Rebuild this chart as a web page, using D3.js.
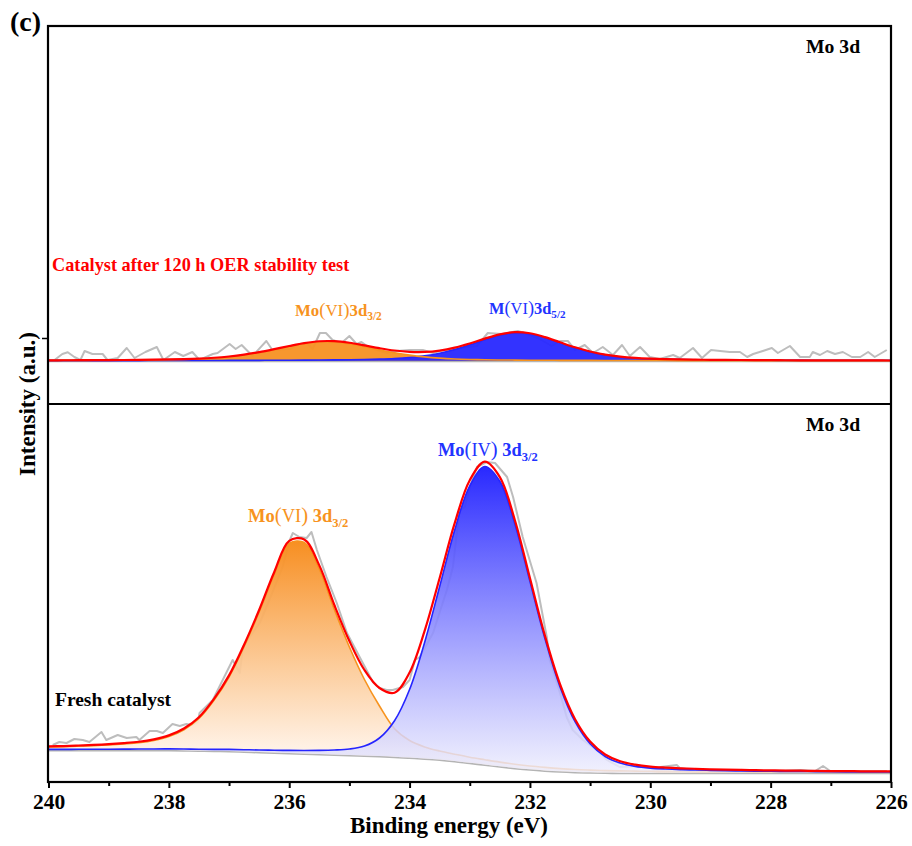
<!DOCTYPE html>
<html>
<head>
<meta charset="utf-8">
<script src="https://cdn.jsdelivr.net/npm/d3@7"></script>
<style>
  html, body { margin: 0; padding: 0; background: #fff; }
  svg { display: block; }
  text { font-family: "Times New Roman", "Liberation Serif", serif; }
</style>
</head>
<body>
<svg id="chart" width="912" height="846"></svg>
<script>
// ---- Mo 3d XPS data (binding energy in eV, intensity in a.u.) ----

// common energy grid of the fitted curves
const energy = [240, 239.75, 239.5, 239.25, 239, 238.75, 238.5, 238.25, 238, 237.75, 237.5, 237.25, 237,
  236.75, 236.5, 236.25, 236, 235.75, 235.5, 235.25, 235, 234.75, 234.5, 234.25, 234, 233.75, 233.5,
  233.25, 233, 232.75, 232.5, 232.25, 232, 231.75, 231.5, 231.25, 231, 230.75, 230.5, 230.25, 230,
  229.75, 229.5, 229.25, 229, 228.75, 228.5, 228.25, 228, 227.75, 227.5, 227.25, 227, 226.75, 226.5,
  226.25, 226];

// after 120 h OER stability test
const afterBackground = 43.2;
const afterMoVI32 = [0.34, 0.38, 0.42, 0.48, 0.54, 0.61, 0.72, 0.86, 1.07, 1.38, 1.89, 2.70, 3.95, 5.74,
  8.15, 11.07, 14.22, 17.05, 18.78, 18.74, 16.96, 14.10, 10.95, 8.04, 5.66, 3.88, 2.66, 1.86, 1.36, 1.05,
  0.85, 0.72, 0.61, 0.54, 0.47, 0.42, 0.38, 0.34, 0.31, 0.28, 0.25, 0.23, 0.21, 0.20, 0.18, 0.17, 0.16,
  0.15, 0.14, 0.13, 0.12, 0.12, 0.11, 0.10, 0.10, 0.09, 0.09];
const afterMoVI52 = [0.15, 0.16, 0.17, 0.18, 0.19, 0.21, 0.22, 0.24, 0.26, 0.29, 0.31, 0.34, 0.38, 0.42,
  0.47, 0.53, 0.59, 0.68, 0.78, 0.90, 1.07, 1.30, 1.67, 2.27, 3.29, 4.97, 7.59, 11.28, 15.97, 21.13,
  25.63, 27.93, 26.91, 23.09, 18.02, 13.06, 8.93, 5.89, 3.87, 2.62, 1.87, 1.43, 1.15, 0.97, 0.82, 0.71,
  0.63, 0.55, 0.49, 0.44, 0.40, 0.36, 0.33, 0.30, 0.27, 0.25, 0.23];
const afterRawEnergy = [239.90, 239.77, 239.68, 239.57, 239.47, 239.40, 239.27, 239.10, 239.02, 238.85,
  238.70, 238.57, 238.39, 238.20, 238.09, 237.90, 237.76, 237.61, 237.49, 237.27, 237.19, 236.99, 236.89,
  236.79, 236.61, 236.38, 236.28, 235.99, 235.83, 235.71, 235.61, 235.49, 235.39, 235.28, 235.13, 235.00,
  234.88, 234.80, 234.66, 234.38, 234.21, 234.00, 233.78, 233.61, 233.50, 233.17, 232.88, 232.70, 232.47,
  232.20, 232.04, 231.84, 231.64, 231.50, 231.37, 231.25, 231.09, 230.95, 230.79, 230.62, 230.47, 230.34,
  230.17, 230.01, 229.84, 229.62, 229.51, 229.29, 229.14, 228.99, 228.84, 228.68, 228.51, 228.39, 228.29,
  228.13, 227.98, 227.88, 227.68, 227.51, 227.35, 227.30, 227.18, 227.06, 226.93, 226.80, 226.65, 226.51,
  226.38, 226.27, 226.07];
const afterRawIntensity = [44, 50, 51.7, 47, 44, 53, 50, 50, 44, 46, 56, 46, 52, 57, 44, 52, 48, 52, 44, 50,
  51, 60, 55, 59, 48, 63, 54, 55, 60, 61, 55, 71, 71, 64, 61, 68, 60, 62, 56, 51, 53, 54, 54, 51, 53, 56,
  58, 71, 70, 73, 70, 65, 58, 63, 63, 54, 59, 51, 57, 49, 59, 48, 57, 47, 45, 49, 46, 56, 46, 54, 53, 52,
  52, 47, 50, 53, 56, 51, 58, 47, 47, 52, 49, 53, 50, 52, 47, 47, 52, 47, 54];

// fresh catalyst
const freshBackground = [32, 32, 32, 32, 32, 32, 32, 32, 32, 31.8, 31.5, 31.2, 31, 30.5, 30, 29.5, 29,
  28.5, 28, 27.5, 27, 26.5, 26, 25.3, 24.5, 23.6, 22.5, 21, 19.2, 17.5, 15.7, 14.1, 12.7, 11.6, 10.7,
  10.1, 9.7, 9.4, 9.3, 9.2, 9.2, 9.2, 9.2, 9.2, 9.2, 9.2, 9.2, 9.2, 9.2, 9.2, 9.2, 9.2, 9.2, 9.2, 9.2,
  9.2, 9.2];
const freshMoVI32 = [3.0, 3.3, 3.8, 4.3, 5.0, 6.0, 7.3, 9.6, 13.5, 20.5, 32, 50.5, 74, 105, 140, 178,
  209.5, 211, 185, 145, 108, 76, 50, 28, 17, 11.5, 8.5, 6.8, 5.6, 4.8, 4.2, 3.7, 3.3, 3.0, 2.7, 2.4, 2.2,
  2.0, 1.8, 1.7, 1.5, 1.4, 1.3, 1.2, 1.1, 1.0, 1.0, 0.9, 0.9, 0.8, 0.8, 0.7, 0.7, 0.7, 0.6, 0.6, 0.6];
const freshMoIV32 = [0.6, 0.64, 0.69, 0.74, 0.8, 0.86, 0.93, 1.0, 1.1, 1.2, 1.3, 1.45, 1.6, 1.8, 2.0, 2.3,
  2.6, 3.0, 3.6, 4.5, 6.0, 9.5, 18, 36, 68, 116, 173, 231, 277, 298, 285, 244, 188, 131.5, 84.4, 50.2,
  28.5, 16.1, 9.6, 6.4, 4.7, 3.8, 3.2, 2.8, 2.4, 2.1, 1.9, 1.7, 1.5, 1.4, 1.3, 1.15, 1.05, 0.97, 0.9,
  0.83, 0.77];
const freshRawEnergy = [239.93, 239.82, 239.70, 239.57, 239.43, 239.32, 239.12, 239.04, 238.85, 238.70,
  238.54, 238.49, 238.32, 238.20, 238.10, 237.94, 237.82, 237.71, 237.61, 237.52, 237.49, 237.27, 236.94,
  236.82, 236.77, 236.54, 236.49, 236.33, 236.11, 235.99, 235.94, 235.83, 235.71, 235.63, 235.54, 235.38,
  235.21, 235.04, 234.83, 234.61, 234.50, 234.38, 234.28, 234.11, 234.00, 233.91, 233.83, 233.61, 233.38,
  233.28, 233.17, 233.08, 233.00, 232.88, 232.72, 232.58, 232.38, 232.28, 232.12, 231.89, 231.72, 231.67,
  231.50, 231.39, 231.29, 231.12, 230.89, 230.72, 230.51, 230.17, 229.96, 229.56, 229.51, 229.18, 228.84,
  228.51, 228.18, 227.85, 227.51, 227.26, 227.13, 227.01, 226.68, 226.35, 226.07];
const freshRawIntensity = [37, 40, 39, 43, 42, 40, 50, 42, 47, 44, 45, 42, 51, 51, 49, 58, 56, 58, 57, 60,
  69, 82, 122, 109, 135, 155, 159, 182, 215, 242, 249, 245, 244, 250, 232, 205, 179, 149, 125, 100, 94,
  92, 92, 95, 102, 122, 125, 149, 192, 215, 272, 275, 295, 315, 320, 319, 305, 285, 245, 199, 145, 122,
  89, 65, 52, 42, 32, 22, 15, 16, 14, 17, 14, 11, 12, 11, 11, 11, 12, 11, 16, 11, 11, 11, 11];

// axis ticks
const majorTicks = [240, 238, 236, 234, 232, 230, 228, 226];
const minorTicks = [239, 237, 235, 233, 231, 229, 227];
const afterIntensityTicks = [66];

// ---- layout ----
const svg = d3.select("#chart");
const box = { left: 48, right: 891, top: 26, mid: 404, bottom: 782 };
const ORANGE = "#F7931E", BLUE = "#2525FF", RED = "#FF0000", RAW = "#BDBDBD", BASE = "#B4B4B4";
const SERIF = "'Times New Roman','Liberation Serif',serif";

const x = d3.scaleLinear().domain([240, 226]).range([box.left + 0.5, box.right]);
const yTop = d3.scaleLinear().domain([0, 378]).range([box.mid, box.top]);
const yBot = d3.scaleLinear().domain([0, 378]).range([box.bottom, box.mid]);

const defs = svg.append("defs");
function clip(id, y0, y1) {
  defs.append("clipPath").attr("id", id).append("rect")
    .attr("x", box.left).attr("y", y0).attr("width", box.right - box.left).attr("height", y1 - y0);
}
clip("clipTop", box.top, box.mid);
clip("clipBot", box.mid, box.bottom);

function gradient(id, y1, y2, c1, c2, o1, o2) {
  const g = defs.append("linearGradient").attr("id", id)
    .attr("gradientUnits", "userSpaceOnUse").attr("x1", 0).attr("x2", 0).attr("y1", y1).attr("y2", y2);
  g.append("stop").attr("offset", 0).attr("stop-color", c1).attr("stop-opacity", o1);
  g.append("stop").attr("offset", 1).attr("stop-color", c2).attr("stop-opacity", o2);
}

function drawPanel(clipId, y, bg, compA, compB, rawE, rawI, opts) {
  const g = svg.append("g").attr("clip-path", `url(#${clipId})`);
  const pts = energy.map((e, i) => ({ e, bg: bg[i], a: compA[i], b: compB[i] }));
  const curve = d3.curveCatmullRom.alpha(0.5);
  const line = d3.line().curve(curve).x(d => x(d.e));
  const area = d3.area().curve(curve).x(d => x(d.e)).y0(d => y(d.bg));
  const path = (yfn, color, w) => g.append("path").datum(pts).attr("fill", "none")
    .attr("stroke", color).attr("stroke-width", w).attr("d", line.y(yfn));

  // measured spectrum
  g.append("path").datum(rawE.map((e, i) => [e, rawI[i]]))
    .attr("fill", "none").attr("stroke", RAW).attr("stroke-width", 2).attr("stroke-linejoin", "round")
    .attr("d", d3.line().x(d => x(d[0])).y(d => y(d[1])));

  // background
  path(d => y(d.bg), BASE, 3);

  // Mo(VI) component
  g.append("path").datum(pts).attr("fill", opts.fillA).attr("d", area.y1(d => y(d.bg + d.a)));
  if (!opts.orangeOnTop) path(d => y(d.bg + d.a), ORANGE, 1.6);

  // second component
  g.append("path").datum(pts).attr("fill", opts.fillB).attr("d", area.y1(d => y(d.bg + d.b)));
  path(d => y(d.bg + d.b), BLUE, 1.6);
  if (opts.orangeOnTop) path(d => y(d.bg + d.a), ORANGE, 1.6);

  // envelope
  path(d => y(d.bg + d.a + d.b), RED, 2.2);
}

// gradient extents follow the component peaks
const bOrangeTop = yBot(d3.max(energy, (e, i) => freshBackground[i] + freshMoVI32[i]));
const bBlueTop = yBot(d3.max(energy, (e, i) => freshBackground[i] + freshMoIV32[i]));
gradient("gOrange", bOrangeTop, yBot(d3.max(freshBackground)), "#F78C1C", "#FFF1E4", 0.97, 0.9);
gradient("gBlue", bBlueTop, yBot(d3.min(freshBackground)), "#2222FF", "#EEEEFD", 0.97, 0.82);

drawPanel("clipTop", yTop, energy.map(() => afterBackground), afterMoVI32, afterMoVI52,
  afterRawEnergy, afterRawIntensity,
  { fillA: "rgba(247,145,35,0.95)", fillB: "rgba(40,40,255,0.95)", orangeOnTop: true });
drawPanel("clipBot", yBot, freshBackground, freshMoVI32, freshMoIV32,
  freshRawEnergy, freshRawIntensity,
  { fillA: "url(#gOrange)", fillB: "url(#gBlue)", orangeOnTop: false });

// ---- frame & axes ----
const frame = svg.append("g").attr("stroke", "#000").attr("stroke-width", 2.2).attr("fill", "none");
frame.append("rect").attr("x", box.left).attr("y", box.top)
  .attr("width", box.right - box.left).attr("height", box.bottom - box.top);
frame.append("line").attr("x1", box.left).attr("x2", box.right).attr("y1", box.mid).attr("y2", box.mid);

const xAxis = svg.append("g").attr("transform", `translate(0,${box.bottom})`)
  .call(d3.axisBottom(x).tickValues(majorTicks).tickSize(6).tickPadding(6).tickFormat(d3.format("d")));
xAxis.select(".domain").remove();
xAxis.selectAll("line").attr("stroke-width", 2);
xAxis.selectAll("text").attr("font-size", 21.5).attr("font-weight", "bold")
  .attr("font-family", SERIF).attr("fill", "#000");

const xMinor = svg.append("g").attr("transform", `translate(0,${box.bottom})`)
  .call(d3.axisBottom(x).tickValues(minorTicks).tickSize(4).tickFormat(""));
xMinor.select(".domain").remove();
xMinor.selectAll("line").attr("stroke-width", 2);

const yAxisTop = svg.append("g").attr("transform", `translate(${box.left},0)`)
  .call(d3.axisLeft(yTop).tickValues(afterIntensityTicks).tickSize(6).tickFormat(""));
yAxisTop.select(".domain").remove();
yAxisTop.selectAll("line").attr("stroke-width", 1.5);

// ---- text ----
function label(xp, yp, size, color, parts) {
  const t = svg.append("text").attr("x", xp).attr("y", yp).attr("font-size", size)
    .attr("font-weight", "bold").attr("fill", color);
  parts.forEach(p => {
    const s = t.append("tspan").text(p.t);
    if (p.normal) s.attr("font-weight", "normal");
    if (p.scale) s.attr("font-size", size * p.scale);
    if (p.sub) s.attr("font-size", size * 0.68).attr("dy", size * 0.26);
  });
  return t;
}
function moLabel(xp, yp, size, color, head, ox, tail, sub) {
  return label(xp, yp, size, color, [
    { t: head }, { t: "(", normal: true, scale: 1.12 }, { t: ox, normal: true },
    { t: ")", normal: true, scale: 1.12 }, { t: tail }, { t: sub, sub: true }
  ]);
}

label(10, 31, 28, "#000", [{ t: "(c)" }]);
label(806, 53, 19.7, "#000", [{ t: "Mo 3d" }]);
label(806, 431, 19.7, "#000", [{ t: "Mo 3d" }]);
label(52, 271, 18.3, RED, [{ t: "Catalyst after 120 h OER stability test" }]);
label(55, 706, 19.5, "#000", [{ t: "Fresh catalyst" }]);

moLabel(295, 316, 16.8, ORANGE, "Mo", "VI", "3d", "3/2");
moLabel(489, 314, 16.4, "#2233FF", "M", "VI", "3d", "5/2");
moLabel(248, 522, 18.5, ORANGE, "Mo", "VI", " 3d", "3/2");
moLabel(438, 456, 18.4, "#2233FF", "Mo", "IV", " 3d", "3/2");

svg.append("text").attr("x", 449).attr("y", 833).attr("text-anchor", "middle")
  .attr("font-size", 23).attr("font-weight", "bold").text("Binding energy (eV)");
svg.append("text").attr("transform", "translate(35,404) rotate(-90)").attr("text-anchor", "middle")
  .attr("font-size", 23).attr("font-weight", "bold").text("Intensity (a.u.)");
</script>
</body>
</html>
